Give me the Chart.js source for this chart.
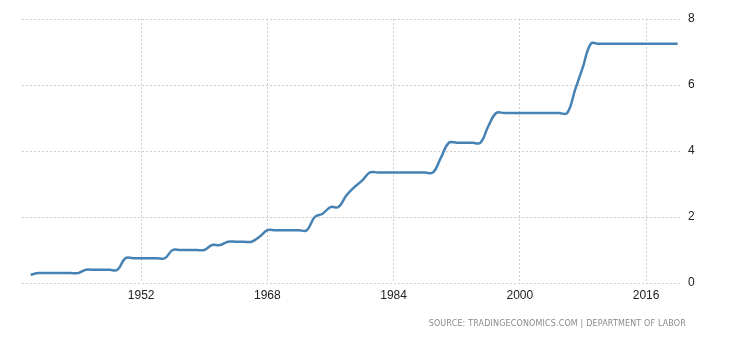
<!DOCTYPE html>
<html>
<head>
<meta charset="utf-8">
<script src="https://cdn.jsdelivr.net/npm/chart.js@4/dist/chart.umd.min.js"></script>
<style>
  html, body { margin: 0; padding: 0; background: #fff; }
  #wrap { position: relative; width: 730px; height: 340px; }
  #source {
    position: absolute;
    right: 44px;
    top: 319px;
    font: 8px "DejaVu Sans", Verdana, sans-serif;
    color: #8a8a8a;
    letter-spacing: 0.15px;
    white-space: nowrap;
  }
</style>
</head>
<body>
<div id="wrap">
  <canvas id="chart" width="730" height="340"></canvas>
  <div id="source">SOURCE: TRADINGECONOMICS.COM | DEPARTMENT OF LABOR</div>
</div>
<script>
  // US federal minimum wage, USD per hour, yearly
  const years = [];
  for (let y = 1938; y <= 2020; y++) years.push(y);

  const wage = [
    0.25,                                   // 1938
    0.30, 0.30, 0.30, 0.30, 0.30, 0.30,     // 1939-1944
    0.40, 0.40, 0.40, 0.40, 0.40,           // 1945-1949
    0.75, 0.75, 0.75, 0.75, 0.75, 0.75,     // 1950-1955
    1.00, 1.00, 1.00, 1.00, 1.00,           // 1956-1960
    1.15, 1.15,                             // 1961-1962
    1.25, 1.25, 1.25, 1.25,                 // 1963-1966
    1.40,                                   // 1967
    1.60, 1.60, 1.60, 1.60, 1.60, 1.60,     // 1968-1973
    2.00, 2.10, 2.30, 2.30,                 // 1974-1977
    2.65, 2.90, 3.10,                       // 1978-1980
    3.35, 3.35, 3.35, 3.35, 3.35, 3.35, 3.35, 3.35, 3.35, // 1981-1989
    3.80,                                   // 1990
    4.25, 4.25, 4.25, 4.25, 4.25,           // 1991-1995
    4.75,                                   // 1996
    5.15, 5.15, 5.15, 5.15, 5.15, 5.15, 5.15, 5.15, 5.15, 5.15, // 1997-2006
    5.85, 6.55,                             // 2007-2008
    7.25, 7.25, 7.25, 7.25, 7.25, 7.25, 7.25, 7.25, 7.25, 7.25, 7.25, 7.25 // 2009-2020
  ];

  const xTicks = [1952, 1968, 1984, 2000, 2016];
  const yTicks = [0, 2, 4, 6, 8];

  const points = years.map((year, i) => ({ x: year, y: wage[i] }));

  const gridStyle = {
    color: "#cfcfcf",
    lineWidth: 1,
    drawTicks: false,
  };

  new Chart(document.getElementById("chart"), {
    type: "line",
    data: {
      datasets: [
        {
          label: "Minimum Wage",
          data: points,
          borderColor: "#4682b4",
          borderWidth: 2.5,
          pointRadius: 0,
          tension: 0.4,
          fill: false,
        },
      ],
    },
    options: {
      responsive: false,
      animation: false,
      layout: { padding: { left: 22, top: 19, right: 0, bottom: 0 } },
      plugins: {
        legend: { display: false },
        tooltip: { enabled: false },
      },
      scales: {
        x: {
          type: "linear",
          min: 1936.9,
          max: 2020.3,
          border: { display: false, dash: [2, 2] },
          grid: gridStyle,
          afterBuildTicks(scale) {
            scale.ticks = xTicks.map((v) => ({ value: v }));
          },
          afterFit(scale) {
            scale.height = 57;
          },
          ticks: {
            padding: 5,
            color: "#222",
            font: { family: "Liberation Sans, Arial, sans-serif", size: 12 },
            maxRotation: 0,
            callback: (v) => String(v),
          },
        },
        y: {
          position: "right",
          min: 0,
          max: 8,
          border: { display: false, dash: [2, 2] },
          grid: gridStyle,
          afterBuildTicks(scale) {
            scale.ticks = yTicks.map((v) => ({ value: v }));
          },
          afterFit(scale) {
            scale.width = 50;
          },
          ticks: {
            padding: 8,
            color: "#222",
            font: { family: "Liberation Sans, Arial, sans-serif", size: 12 },
            callback: (v) => String(v),
          },
        },
      },
    },
  });
</script>
</body>
</html>
